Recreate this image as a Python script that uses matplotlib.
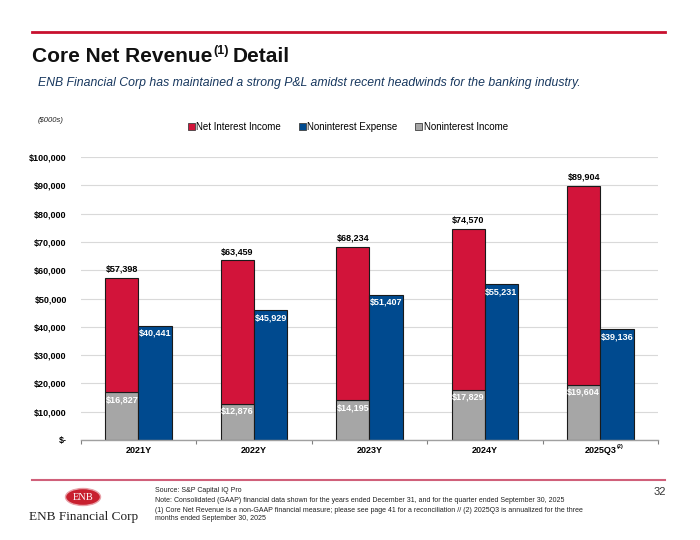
import numpy as np
import matplotlib
matplotlib.use("Agg")
import matplotlib.pyplot as plt
from matplotlib.patches import Patch, Ellipse
from matplotlib.ticker import FuncFormatter, FixedLocator

plt.rcParams['font.family'] = ['Liberation Sans', 'DejaVu Sans']

#-----------------------------------------------------
# data ($000s)
#-----------------------------------------------------
periods = ['2021Y', '2022Y', '2023Y', '2024Y', '2025Q3']
core_net_revenue = [57398, 63459, 68234, 74570, 89904]
noninterest_income = [16827, 12876, 14195, 17829, 19604]
noninterest_expense = [40441, 45929, 51407, 55231, 39136]
net_interest_income = [t - n for t, n in zip(core_net_revenue, noninterest_income)]

RED = '#D2143A'
BLUE = '#004A8F'
GRAY = '#A6A6A6'
EDGE = '#1A1A1A'

fig = plt.figure(figsize=(7, 5.4), dpi=100)
ax = fig.add_axes([80.7/700, 1-440/540, (658-80.7)/700, (440-157)/540])

x = np.arange(len(periods))
w = 0.288
ax.bar(x - w/2, noninterest_income, w, color=GRAY, edgecolor=EDGE, linewidth=0.8, zorder=3)
ax.bar(x - w/2, net_interest_income, w, bottom=noninterest_income, color=RED, edgecolor=EDGE, linewidth=0.8, zorder=3)
ax.bar(x + w/2, noninterest_expense, w, color=BLUE, edgecolor=EDGE, linewidth=0.8, zorder=3)

# value labels
for i in range(len(periods)):
    ax.text(x[i] - w/2, core_net_revenue[i] + 1500, f"${core_net_revenue[i]:,}", ha='center', va='bottom',
            fontsize=6.5, fontweight='bold', color='black')
    ax.text(x[i] - w/2, noninterest_income[i] - 1200, f"${noninterest_income[i]:,}", ha='center', va='top',
            fontsize=6.5, fontweight='bold', color='white', zorder=4)
    ax.text(x[i] + w/2, noninterest_expense[i] - 1200, f"${noninterest_expense[i]:,}", ha='center', va='top',
            fontsize=6.5, fontweight='bold', color='white', zorder=4)

ax.set_xlim(-0.5, len(periods) - 0.5)
ax.set_ylim(0, 100000)
ax.set_yticks(np.arange(0, 100001, 10000))
ax.yaxis.set_major_formatter(FuncFormatter(lambda v, p: "$-" if v == 0 else f"${v:,.0f}"))
ax.tick_params(axis='y', length=0, pad=10, labelsize=6.5)
for lab in ax.get_yticklabels():
    lab.set_fontweight('bold')
ax.grid(axis='y', color='#D9D9D9', linewidth=0.8, zorder=0)

ax.set_xticks(x)
ax.set_xticklabels(periods, fontsize=6.5, fontweight='bold')
ax.xaxis.set_minor_locator(FixedLocator(np.arange(-0.5, len(periods), 1.0)))
ax.tick_params(axis='x', which='major', length=0, pad=4.5)
ax.tick_params(axis='x', which='minor', length=3, width=0.8, color='#808080', direction='out')
for s in ['left', 'right', 'top']:
    ax.spines[s].set_visible(False)
ax.spines['bottom'].set_color('#A0A0A0')
ax.spines['bottom'].set_linewidth(1.0)
ax.spines['bottom'].set_zorder(5)
ax.text(x[-1] + 0.14, -0.022, "(2)", transform=ax.get_xaxis_transform(), fontsize=4,
        fontweight='bold', ha='left', va='center')

# legend
handles = [Patch(facecolor=RED, edgecolor='#404040', linewidth=0.6, label='Net Interest Income'),
           Patch(facecolor=BLUE, edgecolor='#404040', linewidth=0.6, label='Noninterest Expense'),
           Patch(facecolor=GRAY, edgecolor='#404040', linewidth=0.6, label='Noninterest Income')]
fig.legend(handles=handles, loc='center', bbox_to_anchor=(0.497, 1-127/540), ncol=3, frameon=False,
           fontsize=7, handlelength=0.7, handleheight=0.7, handletextpad=0.2, columnspacing=1.8)

# header
fig.add_artist(plt.Line2D([32/700, 665/700], [1-31.5/540]*2, color='#C8102E', linewidth=2))
renderer = fig.canvas.get_renderer()
t1 = fig.text(32/700, 1-56/540, "Core Net Revenue", fontsize=15, fontweight='bold', color='#111111', va='center')
bb = t1.get_window_extent(renderer)
t2 = fig.text(bb.x1/700 + 0.001, 1-51/540, "(1)", fontsize=9, fontweight='bold', color='#111111', va='center')
bb2 = t2.get_window_extent(renderer)
fig.text(bb2.x1/700 + 0.006, 1-56/540, "Detail", fontsize=15, fontweight='bold', color='#111111', va='center')
fig.text(38/700, 1-83/540, "ENB Financial Corp has maintained a strong P&L amidst recent headwinds for the banking industry.",
         fontsize=8.8, style='italic', color='#17375E', va='center')
fig.text(38/700, 1-121/540, "($000s)", fontsize=5.5, style='italic', color='#222222', va='center')

# footer
fig.add_artist(plt.Line2D([32/700, 665/700], [1-479.5/540]*2, color='#D0607A', linewidth=1.5))
notes = ["Source: S&P Capital IQ Pro",
         "Note: Consolidated (GAAP) financial data shown for the years ended December 31, and for the quarter ended September 30, 2025",
         "(1) Core Net Revenue is a non-GAAP financial measure; please see page 41 for a reconciliation // (2) 2025Q3 is annualized for the three",
         "months ended September 30, 2025"]
for txt, yy in zip(notes, [490, 500.5, 510.5, 518]):
    fig.text(155/700, 1-yy/540, txt, fontsize=5, color='#222222', va='center')
fig.text(666/700, 1-492/540, "32", fontsize=8, color='#333333', ha='right', va='center')

# logo
fig.add_artist(Ellipse((83/700, 1-497/540), 35/700, 17/540, facecolor='#C8202F', edgecolor='#E8A0A8',
                       linewidth=1, transform=fig.transFigure))
fig.text(83/700, 1-497/540, "ENB", fontsize=7.5, family=['Liberation Serif', 'DejaVu Serif'], color='white',
         ha='center', va='center')
fig.text(84/700, 1-517/540, "ENB Financial Corp", fontsize=9.5, family=['Liberation Serif', 'DejaVu Serif'],
         color='#222222', ha='center', va='center')

fig.savefig('out.png', dpi=100)
